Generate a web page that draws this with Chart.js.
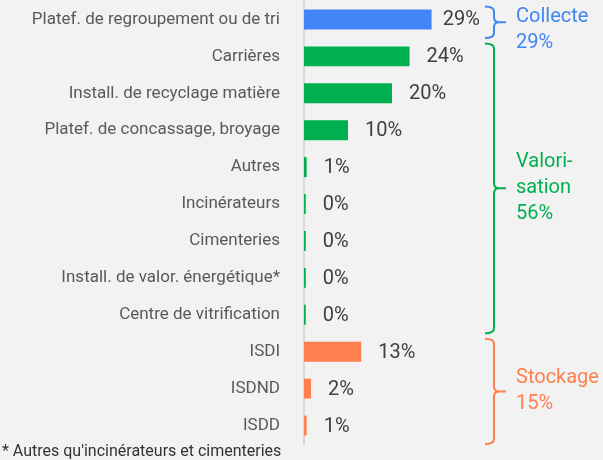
<!DOCTYPE html>
<html>
<head>
<meta charset="utf-8">
<script src="https://cdn.jsdelivr.net/npm/chart.js@4.4.1/dist/chart.umd.min.js"></script>
<style>
  html, body { margin: 0; padding: 0; background: #f2f2f2; }
  #wrap { width: 603px; height: 460px; }
</style>
</head>
<body>
<div id="wrap"><canvas id="chart" width="603" height="460"></canvas></div>
<script>
"use strict";

const categories = [
  "Platef. de regroupement ou de tri",
  "Carrières",
  "Install. de recyclage matière",
  "Platef. de concassage, broyage",
  "Autres",
  "Incinérateurs",
  "Cimenteries",
  "Install. de valor. énergétique*",
  "Centre de vitrification",
  "ISDI",
  "ISDND",
  "ISDD"
];
const values = [29, 24, 20, 10, 0.6, 0.4, 0.4, 0.4, 0.4, 13, 1.6, 0.6];

const groupLabels = [["Collecte", "29%"], ["Valori-", "sation", "56%"], ["Stockage", "15%"]];
const groupStart = [0, 1, 9];
const groupEnd = [0, 8, 11];
const groupColors = ["#4285f4", "#00b050", "#ff7f50"];

const footnote = "* Autres qu'incinérateurs et cimenteries";

function groupOf(i) {
  for (let g = 0; g < groupStart.length; g++) {
    if (i >= groupStart[g] && i <= groupEnd[g]) return g;
  }
  return 0;
}
const barColors = categories.map((c, i) => groupColors[groupOf(i)]);

Chart.defaults.font.family = "Roboto";

const valueLabels = {
  id: "valueLabels",
  afterDatasetsDraw(chart) {
    const ctx = chart.ctx;
    const meta = chart.getDatasetMeta(0);
    ctx.save();
    ctx.font = "20px Roboto";
    ctx.fillStyle = "#404040";
    ctx.textBaseline = "middle";
    ctx.textAlign = "left";
    meta.data.forEach((bar, i) => {
      const txt = Math.round(values[i]) + "%";
      const w = ctx.measureText(txt).width;
      const x = Math.min(bar.x + 17, chart.chartArea.right - 22 - w);
      ctx.fillText(txt, x, bar.y + 1);
    });
    ctx.restore();
  }
};

const brackets = {
  id: "brackets",
  afterDraw(chart) {
    const ctx = chart.ctx;
    const y = chart.scales.y;
    const band = y.getPixelForValue(1) - y.getPixelForValue(0);
    const bx = chart.chartArea.right - 8;
    const r = 5;
    ctx.save();
    ctx.lineWidth = 2;
    groupStart.forEach((s, g) => {
      const top = y.getPixelForValue(s) - 0.35 * band;
      const bot = y.getPixelForValue(groupEnd[g]) + 0.5 * band;
      const mid = (top + bot) / 2;
      const tip = bx + 12;
      ctx.strokeStyle = groupColors[g];
      ctx.beginPath();
      ctx.moveTo(bx - 9, top);
      ctx.quadraticCurveTo(bx, top, bx, top + r);
      ctx.lineTo(bx, mid - r);
      ctx.quadraticCurveTo(bx, mid, bx + r, mid);
      ctx.lineTo(tip, mid);
      ctx.moveTo(bx + r, mid);
      ctx.quadraticCurveTo(bx, mid, bx, mid + r);
      ctx.lineTo(bx, bot - r);
      ctx.quadraticCurveTo(bx, bot, bx - 9, bot);
      ctx.stroke();

      const lines = groupLabels[g];
      const lh = 26;
      let first = mid - (lines.length - 1) * lh / 2;
      first = Math.max(first, chart.chartArea.top + 16);
      ctx.fillStyle = groupColors[g];
      ctx.font = "20px Roboto";
      ctx.textBaseline = "middle";
      ctx.textAlign = "left";
      lines.forEach((t, k) => {
        ctx.fillText(t, tip + 10, first + k * lh);
      });
    });

    ctx.fillStyle = "#333333";
    ctx.font = "16px Roboto";
    ctx.textBaseline = "middle";
    ctx.textAlign = "left";
    ctx.fillText(footnote, 2, 452);
    ctx.restore();
  }
};

const ctx = document.getElementById("chart").getContext("2d");
const chart = new Chart(ctx, {
  type: "bar",
  data: {
    labels: categories,
    datasets: [{
      data: values,
      backgroundColor: barColors,
      borderWidth: 0,
      barPercentage: 0.9,
      categoryPercentage: 0.6
    }]
  },
  options: {
    indexAxis: "y",
    responsive: false,
    animation: false,
    layout: { padding: { top: 1, bottom: 16, right: 101, left: 0 } },
    plugins: { legend: { display: false }, tooltip: { enabled: false } },
    scales: {
      x: { display: false, min: 0, max: 45 },
      y: {
        grid: { display: false },
        border: { display: true, color: "#d9d9d9", width: 2 },
        ticks: { color: "#595959", font: { size: 17 }, padding: 16 },
        afterFit(scale) {
          scale.width = 304;
          scale.paddingTop = 0;
          scale.paddingBottom = 0;
        }
      }
    }
  },
  plugins: [valueLabels, brackets]
});
</script>
</body>
</html>
